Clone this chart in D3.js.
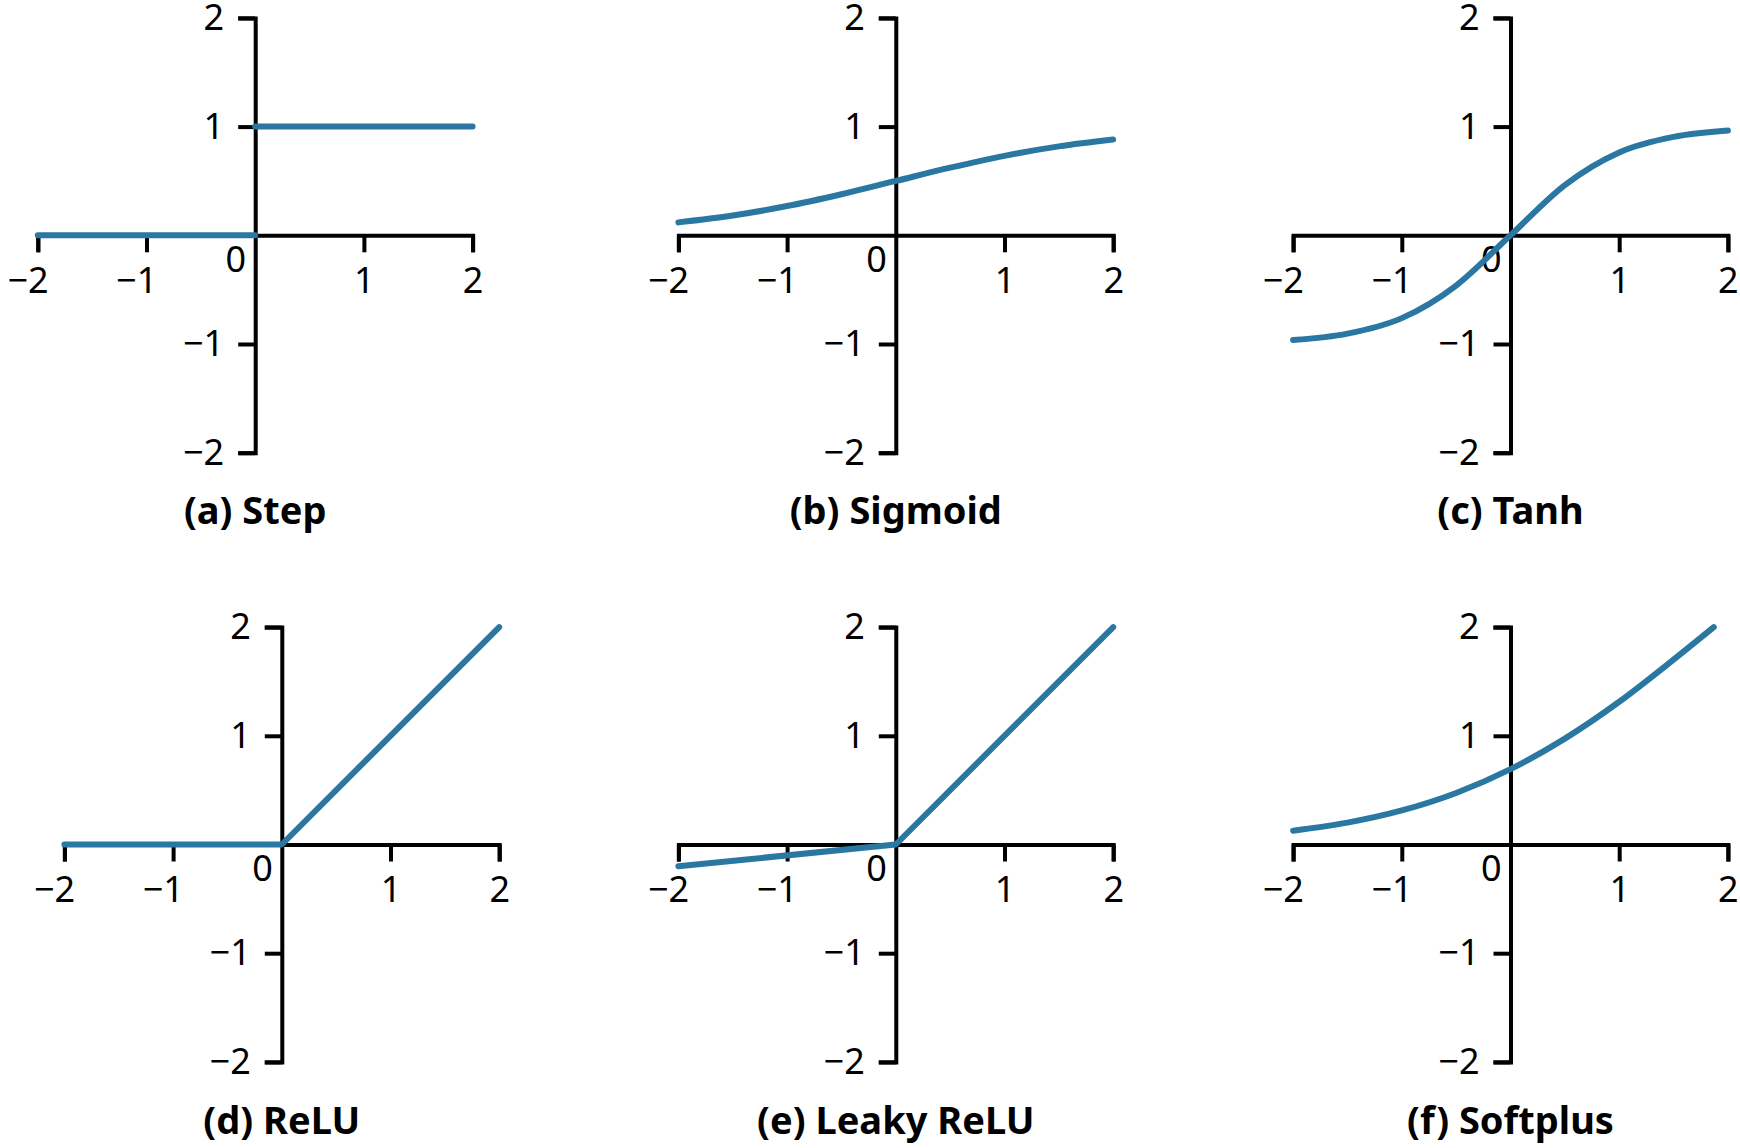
<!DOCTYPE html>
<html>
<head>
<meta charset="utf-8">
<script src="https://cdn.jsdelivr.net/npm/d3@7"></script>
<style>
  html, body { margin: 0; padding: 0; background: #ffffff; }
  svg { display: block; }
</style>
</head>
<body>
<svg id="chart" width="1740" height="1148"></svg>
<script>
// ---------------- data ----------------
const titles = ["(a) Step", "(b) Sigmoid", "(c) Tanh", "(d) ReLU", "(e) Leaky ReLU", "(f) Softplus"];
const axisDomain = [-2, 2];
const xTickValues = [-2, -1, 1, 2];
const yTickValues = [-2, -1, 1, 2];
const originLabel = "0";

const stepX = [-2, 0, NaN, 0, 2];
const stepY = [0, 0, NaN, 1, 1];

const sampleX = [-2, -1.5, -1, -0.5, 0, 0.5, 1, 1.5, 2];
const sigmoidY = [0.119, 0.182, 0.269, 0.378, 0.5, 0.622, 0.731, 0.818, 0.881];
const tanhY = [-0.964, -0.905, -0.762, -0.462, 0, 0.462, 0.762, 0.905, 0.964];

const reluX = [-2, 0, 2];
const reluY = [0, 0, 2];
const leakyX = [-2, 0, 2];
const leakyY = [-0.2, 0, 2];

const softplusX = [-2, -1.5, -1, -0.5, 0, 0.5, 1, 1.5, 1.87];
const softplusY = [0.127, 0.201, 0.313, 0.474, 0.693, 0.974, 1.313, 1.701, 2.0];

// ---------------- layout ----------------
const panels = [
  { ox: 255.2,  oy: 235.3, xs: stepX,     ys: stepY,     curve: d3.curveLinear },
  { ox: 895.8,  oy: 235.3, xs: sampleX,   ys: sigmoidY,  curve: d3.curveMonotoneX },
  { ox: 1510.5, oy: 235.3, xs: sampleX,   ys: tanhY,     curve: d3.curveMonotoneX },
  { ox: 281.8,  oy: 844.5, xs: reluX,     ys: reluY,     curve: d3.curveLinear },
  { ox: 895.8,  oy: 844.5, xs: leakyX,    ys: leakyY,    curve: d3.curveLinear },
  { ox: 1510.5, oy: 844.5, xs: softplusX, ys: softplusY, curve: d3.curveMonotoneX }
];
const unit = 108.7;
const tickLen = 17;
const tickFont = 36;
const titleFont = 38;
const axisColor = "#000000";
const lineColor = "#2a77a1";
const fontFamily = "'Noto Sans', 'Open Sans', sans-serif";
const fmt = d3.format("d");

const svg = d3.select("#chart");

panels.forEach((p, i) => {
  const x = d3.scaleLinear().domain(axisDomain).range([p.ox - 2 * unit, p.ox + 2 * unit]);
  const y = d3.scaleLinear().domain(axisDomain).range([p.oy + 2 * unit, p.oy - 2 * unit]);
  const g = svg.append("g");

  // x axis
  const xAxis = d3.axisBottom(x)
    .tickValues(xTickValues)
    .tickFormat(fmt)
    .tickSize(tickLen)
    .tickSizeOuter(tickLen)
    .tickPadding(15);
  const gx = g.append("g")
    .attr("transform", `translate(0,${y(0)})`)
    .call(xAxis);
  gx.selectAll("path.domain").attr("stroke", axisColor).attr("stroke-width", 4).attr("fill", "none");
  gx.selectAll(".tick line").attr("stroke", axisColor).attr("stroke-width", 4);
  gx.selectAll(".tick text")
    .attr("fill", "#000")
    .style("font-family", fontFamily)
    .style("font-size", tickFont + "px")
    .attr("text-anchor", "end")
    .attr("x", tickFont * 0.286);

  // y axis
  const yAxis = d3.axisLeft(y)
    .tickValues(yTickValues)
    .tickFormat(fmt)
    .tickSize(tickLen)
    .tickSizeOuter(tickLen)
    .tickPadding(14);
  const gy = g.append("g")
    .attr("transform", `translate(${x(0)},0)`)
    .call(yAxis);
  gy.selectAll("path.domain").attr("stroke", axisColor).attr("stroke-width", 4).attr("fill", "none");
  gy.selectAll(".tick line").attr("stroke", axisColor).attr("stroke-width", 4);
  gy.selectAll(".tick text")
    .attr("fill", "#000")
    .style("font-family", fontFamily)
    .style("font-size", tickFont + "px");

  // origin label
  g.append("text")
    .attr("x", x(0) - 9)
    .attr("y", y(0) + 36.5)
    .attr("text-anchor", "end")
    .style("font-family", fontFamily)
    .style("font-size", tickFont + "px")
    .attr("fill", "#000")
    .text(originLabel);

  // curve
  const pts = p.xs.map((v, k) => [v, p.ys[k]]);
  const line = d3.line()
    .defined(d => !isNaN(d[0]) && !isNaN(d[1]))
    .x(d => x(d[0]))
    .y(d => y(d[1]))
    .curve(p.curve);
  g.append("path")
    .datum(pts)
    .attr("d", line)
    .attr("fill", "none")
    .attr("stroke", lineColor)
    .attr("stroke-width", 6)
    .attr("stroke-linecap", "round")
    .attr("stroke-linejoin", "round");

  // title
  g.append("text")
    .attr("x", x(0))
    .attr("y", y(0) + 289)
    .attr("text-anchor", "middle")
    .style("font-family", fontFamily)
    .style("font-size", titleFont + "px")
    .style("font-weight", "bold")
    .attr("fill", "#000")
    .text(titles[i]);
});
</script>
</body>
</html>
